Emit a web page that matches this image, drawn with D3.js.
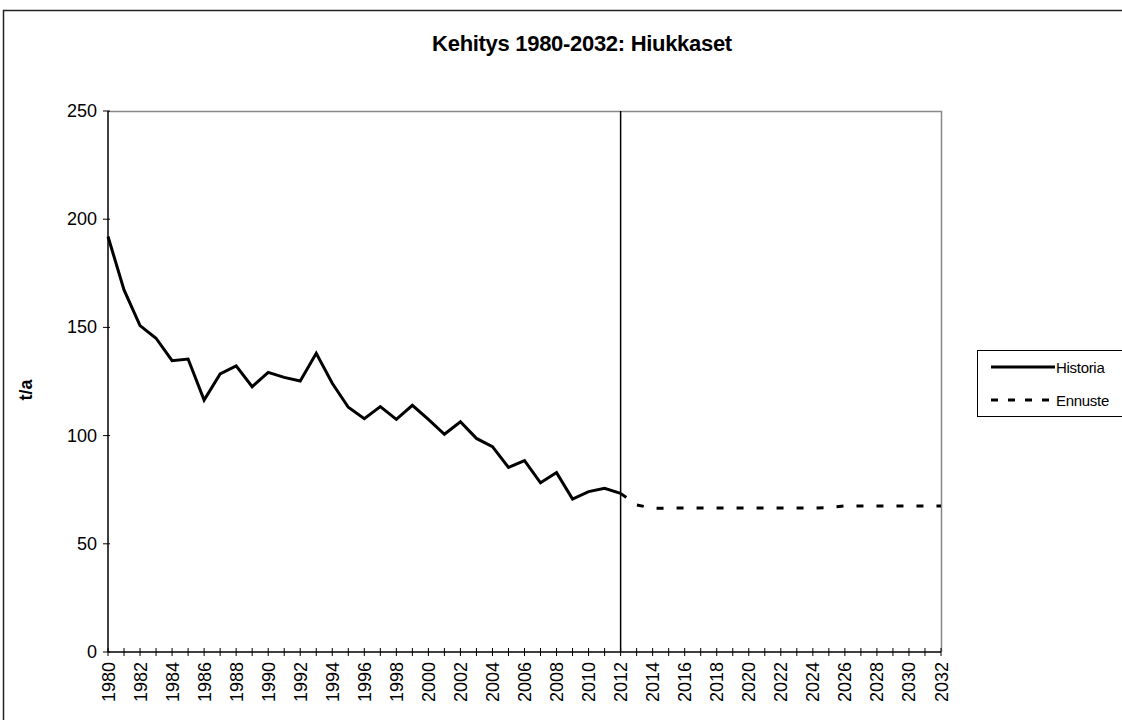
<!DOCTYPE html>
<html>
<head>
<meta charset="utf-8">
<script src="https://cdn.jsdelivr.net/npm/d3@7"></script>
<style>
  body { margin: 0; background: #fff; }
  svg text { font-family: "Liberation Sans", Arial, sans-serif; fill: #000; }
</style>
</head>
<body>
<svg id="chart" width="1122" height="720"></svg>
<script>
// data
const historyYears = d3.range(1980, 2013);
const historyValues = [192, 167.3, 150.8, 145, 134.6, 135.4, 116.4, 128.5, 132.2, 122.6,
  129.2, 126.9, 125.2, 138, 124.2, 113.1, 107.8, 113.4, 107.5, 114,
  107.5, 100.6, 106.4, 98.7, 94.9, 85.3, 88.4, 78.2, 82.9, 70.7,
  74.1, 75.6, 73.3];
const forecastYears = d3.range(2012, 2033);
const forecastValues = [73.3, 68, 66.4, 66.5, 66.5, 66.5, 66.5, 66.5, 66.5, 66.5,
  66.5, 66.5, 66.5, 66.7, 67.5, 67.5, 67.5, 67.5, 67.5, 67.5, 67.5];
const yTicks = [0, 50, 100, 150, 200, 250];
const seriesNames = ['Historia', 'Ennuste'];
const splitYear = 2012;

const svg = d3.select('#chart');
const plotLeft = 108, plotRight = 941, plotTop = 111, plotBottom = 652;

const x = d3.scaleLinear().domain([1980, 2032]).range([plotLeft, plotRight]);
const y = d3.scaleLinear().domain([0, 250]).range([plotBottom, plotTop]);

// outer chart frame
svg.append('rect')
  .attr('x', 3.5).attr('y', 10.5)
  .attr('width', 1130).attr('height', 720)
  .attr('fill', 'none').attr('stroke', '#222').attr('stroke-width', 1.5);

// title
svg.append('text')
  .attr('x', 582).attr('y', 51)
  .attr('text-anchor', 'middle')
  .style('font-size', '22px').style('font-weight', 'bold')
  .style('letter-spacing', '-0.3px')
  .text('Kehitys 1980-2032: Hiukkaset');

// plot area border (top + right gray)
svg.append('path')
  .attr('d', `M${plotLeft},${plotTop + 0.5}H${plotRight + 0.5}V${plotBottom}`)
  .attr('fill', 'none').attr('stroke', '#888').attr('stroke-width', 1.5);

// y axis
const yAxis = svg.append('g').attr('transform', `translate(${plotLeft},0)`);
yAxis.append('line').attr('x1', 0).attr('x2', 0).attr('y1', plotTop).attr('y2', plotBottom)
  .attr('stroke', '#000').attr('stroke-width', 1.5);
yAxis.selectAll('line.tick').data(yTicks).join('line')
  .attr('class', 'tick')
  .attr('x1', -5).attr('x2', 2)
  .attr('y1', d => y(d)).attr('y2', d => y(d))
  .attr('stroke', '#000');
yAxis.selectAll('text').data(yTicks).join('text')
  .attr('x', -11).attr('y', d => y(d) + 6)
  .attr('text-anchor', 'end')
  .style('font-size', '18px')
  .text(d => d);

// y title
svg.append('text')
  .attr('transform', 'translate(32,390) rotate(-90)')
  .attr('text-anchor', 'middle')
  .style('font-size', '18px').style('font-weight', 'bold')
  .text('t/a');

// x axis
const allYears = d3.range(1980, 2033);
const xAxis = svg.append('g').attr('transform', `translate(0,${plotBottom})`);
xAxis.append('line').attr('x1', plotLeft).attr('x2', plotRight).attr('y1', 0).attr('y2', 0)
  .attr('stroke', '#000').attr('stroke-width', 1.5);
xAxis.selectAll('line.tick').data(allYears).join('line')
  .attr('class', 'tick')
  .attr('x1', d => x(d)).attr('x2', d => x(d))
  .attr('y1', -4).attr('y2', 4)
  .attr('stroke', '#000');
xAxis.selectAll('text').data(allYears.filter(d => d % 2 === 0)).join('text')
  .attr('transform', d => `translate(${x(d) + 6.5},10) rotate(-90)`)
  .attr('text-anchor', 'end')
  .style('font-size', '18px')
  .text(d => d);

// split line
svg.append('line')
  .attr('x1', x(splitYear)).attr('x2', x(splitYear))
  .attr('y1', plotTop).attr('y2', plotBottom)
  .attr('stroke', '#000').attr('stroke-width', 1.5);

const line = d3.line().x(d => x(d[0])).y(d => y(d[1]));

// forecast (dashed)
svg.append('path')
  .datum(d3.zip(forecastYears, forecastValues))
  .attr('d', line)
  .attr('fill', 'none').attr('stroke', '#000').attr('stroke-width', 3)
  .attr('stroke-dasharray', '7,13');

// history (solid)
svg.append('path')
  .datum(d3.zip(historyYears, historyValues))
  .attr('d', line)
  .attr('fill', 'none').attr('stroke', '#000').attr('stroke-width', 3)
  .attr('stroke-linejoin', 'miter');

// legend
const legend = svg.append('g');
legend.append('rect')
  .attr('x', 977.5).attr('y', 350.5).attr('width', 160).attr('height', 66)
  .attr('fill', '#fff').attr('stroke', '#000');
const legendRows = legend.selectAll('g.row').data(seriesNames).join('g')
  .attr('class', 'row')
  .attr('transform', (d, i) => `translate(0,${367 + i * 33})`);
legendRows.append('line')
  .attr('x1', 991).attr('x2', 1055).attr('y1', 0).attr('y2', 0)
  .attr('stroke', '#000').attr('stroke-width', 3)
  .attr('stroke-dasharray', (d, i) => i === 0 ? null : '7,10');
legendRows.append('text')
  .attr('x', 1056).attr('y', 5.5)
  .style('font-size', '15px').style('letter-spacing', '-0.3px')
  .text(d => d);
</script>
</body>
</html>
